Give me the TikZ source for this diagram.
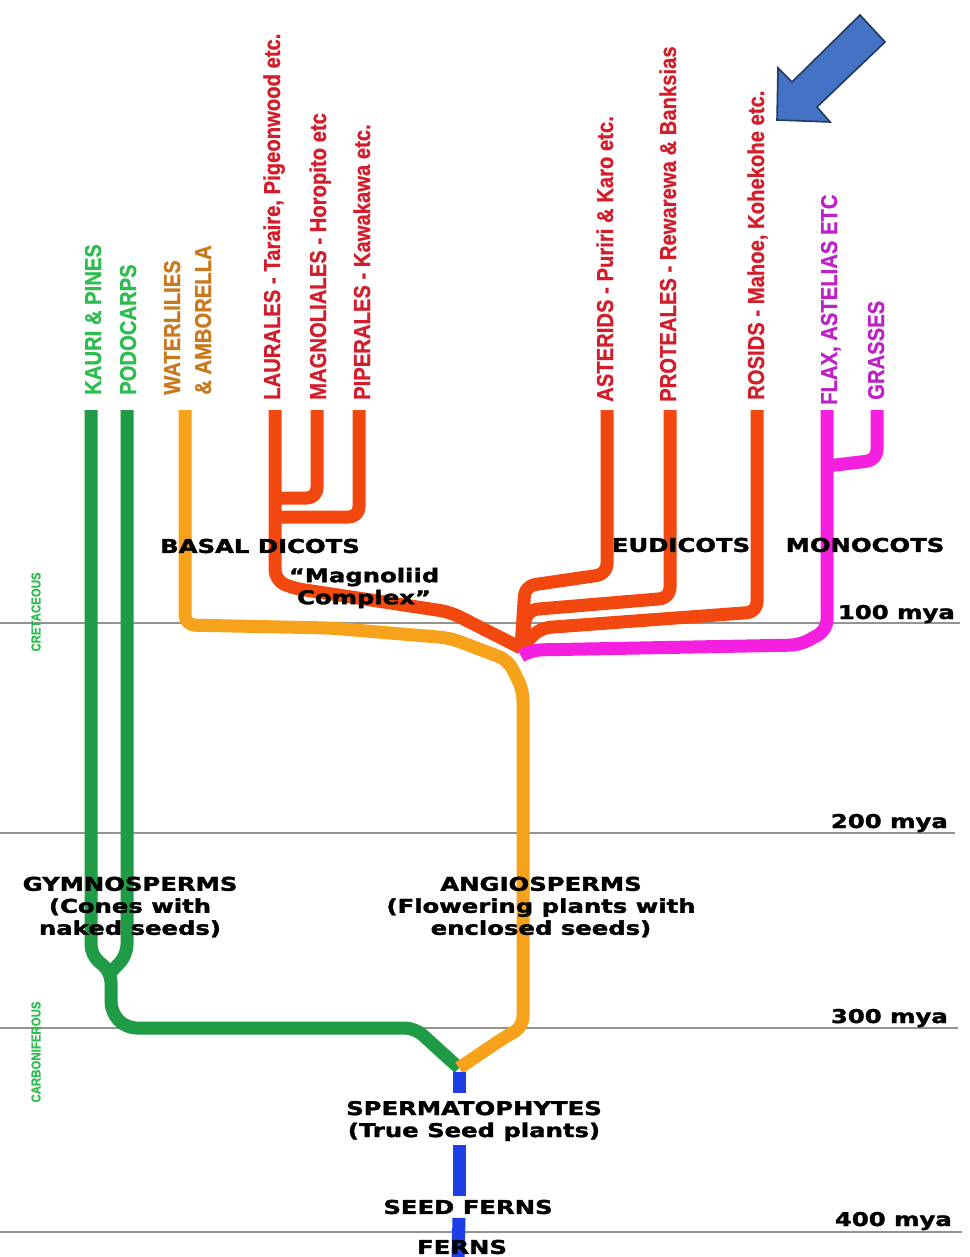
\documentclass[tikz,border=0pt]{standalone}
\usepackage{fontspec}
\usepackage{graphicx}
\setmainfont{Liberation Sans}
\newfontfamily\blkfont{DejaVu Sans Bold}[FakeBold=1.6]
\newfontfamily\colfont{Liberation Sans Bold}[FakeBold=0.8]
\definecolor{gLine}{HTML}{1F9A45}
\definecolor{oLine}{HTML}{F7A21B}
\definecolor{rLine}{HTML}{F2480F}
\definecolor{mLine}{HTML}{F51FE0}
\definecolor{bLine}{HTML}{1E3FE6}
\definecolor{gText}{HTML}{2DBD4E}
\definecolor{oText}{HTML}{C9781C}
\definecolor{rText}{HTML}{D41D2B}
\definecolor{mText}{HTML}{BC22C8}
\definecolor{arrFill}{HTML}{4472C4}
\definecolor{arrEdge}{HTML}{1F3864}
\newcommand\vnar[1]{\scalebox{0.88}[1]{#1}}
\tikzset{
  branch/.style={line width=13pt, rounded corners=10pt, line cap=butt, line join=round},
  vlabel/.style={rotate=90, anchor=base west, inner sep=0pt, font=\colfont\fontsize{23}{23}\selectfont},
  plabel/.style={rotate=90, anchor=center, inner sep=0pt, text=gText, font=\colfont\fontsize{13}{13}\selectfont},
  blabel/.style={font=\blkfont\fontsize{19}{22}\selectfont, xscale=1.28, align=center, inner sep=0pt},
  gridline/.style={draw=gray!85, line width=1.6pt},
}
\begin{document}
\begin{tikzpicture}[x=1pt,y=-1pt]
\path[use as bounding box] (0,0) rectangle (969,1257);
\clip (0,0) rectangle (969,1257);
\fill[white] (0,0) rectangle (969,1257);

% time grid
\coordinate (g1a) at (0,623);  \coordinate (g1b) at (960,623);
\coordinate (g2a) at (0,833);  \coordinate (g2b) at (955,833);
\coordinate (g3a) at (0,1028); \coordinate (g3b) at (958,1028);
\coordinate (g4a) at (0,1232); \coordinate (g4b) at (962,1232);
\draw[gridline] (g1a) -- (g1b);
\draw[gridline] (g2a) -- (g2b);
\draw[gridline] (g3a) -- (g3b);
\draw[gridline] (g4a) -- (g4b);

% key points
\coordinate (J) at (521,648);
\coordinate (Jm) at (521,656);
\coordinate (gym) at (111,972);
\coordinate (seed) at (459,1068);
\coordinate (flaxbase) at (827,466);

% gymnosperms (green)
\draw[branch, draw=gLine] (91,410) -- (91,955) -- (gym) -- (111,1012) -- (126,1028) -- (415,1028) -- (seed);
\draw[branch, draw=gLine] (127,410) -- (127,955) -- (gym);

% angiosperm stem and basal (orange)
\draw[branch, draw=oLine] (185,410) -- (185,625) -- (330,628) -- (450,638) -- (508,660) -- (523,690) -- (523,1027) -- (505,1037) -- (seed);

% magnoliid complex (red)
\draw[branch, draw=rLine] (275,410) -- (275,580) -- (292,588) -- (450,612) -- (J);
\draw[branch, draw=rLine] (317,410) -- (317,498) -- (275,498);
\draw[branch, draw=rLine] (359,410) -- (359,517) -- (275,517);

% eudicots (red)
\draw[branch, draw=rLine] (607,410) -- (607,574) -- (525,586) -- (J);
\draw[branch, draw=rLine] (670,410) -- (670,598) -- (527,610) -- (J);
\draw[branch, draw=rLine] (757,410) -- (757,612) -- (540,628) -- (J);

% monocots (magenta)
\draw[branch, draw=mLine] (Jm) -- (532,650) -- (800,645) -- (827,630) -- (827,410);
\draw[branch, draw=mLine] (877,410) -- (877,460) -- (flaxbase);

% stem below (blue, broken)
\coordinate (b1) at (459,1072); \coordinate (b2) at (459,1093);
\coordinate (b3) at (459,1145); \coordinate (b4) at (459,1196);
\coordinate (b5) at (459,1218); \coordinate (b6) at (458,1257);
\draw[branch, draw=bLine] (b1) -- (b2);
\draw[branch, draw=bLine] (b3) -- (b4);
\draw[branch, draw=bLine] (b5) -- (b6);

% vertical taxon labels
\node[vlabel, text=gText] (kauri) at (101,395) {\vnar{KAURI \& PINES}};
\node[vlabel, text=gText] (podo) at (136,395) {\vnar{PODOCARPS}};
\node[vlabel, text=oText] (water) at (180,395) {\vnar{WATERLILIES}};
\node[vlabel, text=oText] (ambo) at (211,395) {\vnar{\& AMBORELLA}};
\node[vlabel, text=rText] (laur) at (280,400) {\vnar{LAURALES - Taraire, Pigeonwood etc.}};
\node[vlabel, text=rText] (magn) at (326,400) {\vnar{MAGNOLIALES - Horopito etc}};
\node[vlabel, text=rText] (pipe) at (370,400) {\vnar{PIPERALES - Kawakawa etc.}};
\node[vlabel, text=rText] (aste) at (613,402) {\vnar{ASTERIDS - Puriri \& Karo etc.}};
\node[vlabel, text=rText] (prot) at (676,402) {\vnar{PROTEALES - Rewarewa \& Banksias}};
\node[vlabel, text=rText] (rosi) at (764,400) {\vnar{ROSIDS - Mahoe, Kohekohe etc.}};
\node[vlabel, text=mText] (flax) at (837,405) {\vnar{FLAX, ASTELIAS ETC}};
\node[vlabel, text=mText] (gras) at (884,400) {\vnar{GRASSES}};

% periods
\node[plabel] (cret) at (36,612) {\vnar{CRETACEOUS}};
\node[plabel] (carb) at (36,1052) {\vnar{CARBONIFEROUS}};

% group labels
\node[blabel] (basal) at (260,546) {BASAL DICOTS};
\node[blabel] (magcx) at (364,588) {“Magnoliid\\Complex”};
\node[blabel] (eudi) at (681,545) {EUDICOTS};
\node[blabel] (mono) at (865,545) {MONOCOTS};
\node[blabel] (gymn) at (130,907) {GYMNOSPERMS\\(Cones with\\naked seeds)};
\node[blabel] (angi) at (541,907) {ANGIOSPERMS\\(Flowering plants with\\enclosed seeds)};
\node[blabel] (sper) at (474,1121) {SPERMATOPHYTES\\(True Seed plants)};
\node[blabel] (sfern) at (468,1207) {SEED FERNS};
\node[blabel] (fern) at (462,1247) {FERNS};

% time labels
\node[blabel, anchor=base east] (m100) at (955,619) {100 mya};
\node[blabel, anchor=base east] (m200) at (948,828) {200 mya};
\node[blabel, anchor=base east] (m300) at (948,1023) {300 mya};
\node[blabel, anchor=base east] (m400) at (952,1226) {400 mya};

% pointer arrow
\draw[fill=arrFill, draw=arrEdge, line width=1.6pt, line join=miter]
  (777,120) -- (778,68) -- (792,82) -- (860,15) -- (885,42) -- (817,107) -- (830,122) -- cycle;
\end{tikzpicture}
\end{document}
